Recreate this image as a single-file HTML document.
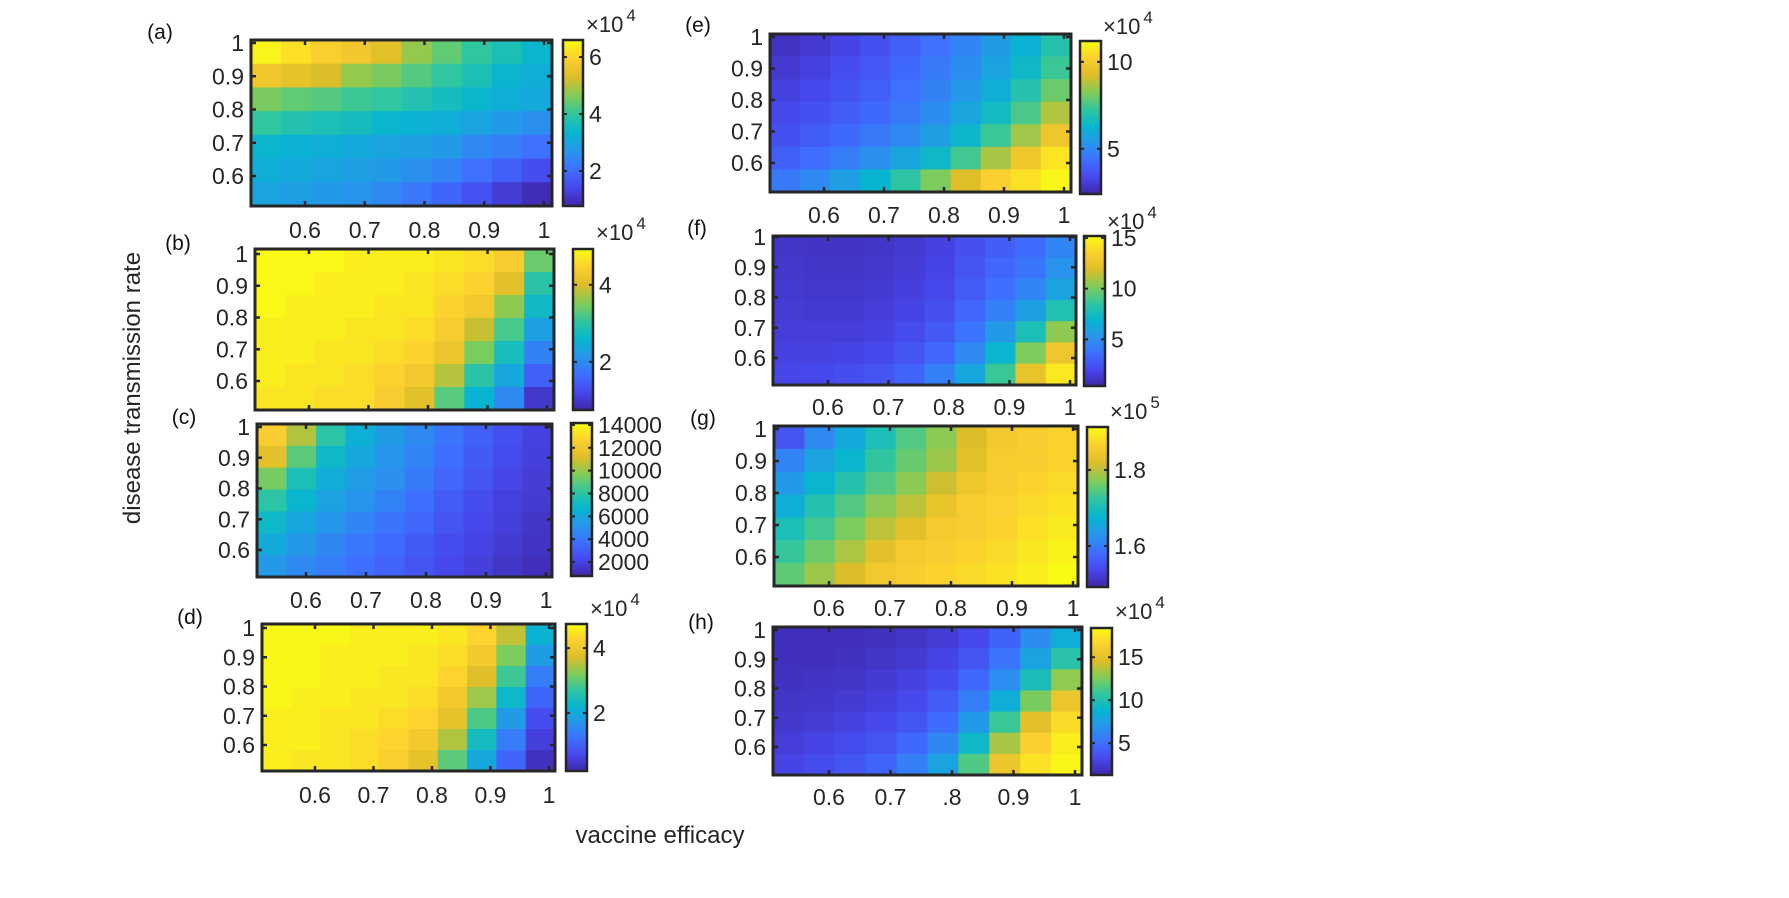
<!DOCTYPE html>
<html><head><meta charset="utf-8"><style>
html,body{margin:0;padding:0;background:#fff;}
svg{display:block;font-family:"Liberation Sans",Arial,sans-serif;}
</style></head><body>
<svg id="fig" width="1789" height="898" viewBox="0 0 1789 898" xmlns="http://www.w3.org/2000/svg">
<rect width="1789" height="898" fill="#fff"/>
<text x="0" y="0" transform="translate(140,388) rotate(-90)" font-size="24" text-anchor="middle" fill="#262626">disease transmission rate</text>
<text x="660" y="843" font-size="24" text-anchor="middle" fill="#262626">vaccine efficacy</text>
</svg>
<script>
const xTickVals=[0.6,0.7,0.8,0.9,1];
const xTickLabels=["0.6","0.7","0.8","0.9","1"];
const xTickLabelsH=["0.6","0.7",".8","0.9","1"];
const yTickVals=[0.6,0.7,0.8,0.9,1];
const yTickLabels=["0.6","0.7","0.8","0.9","1"];

const dataA=[[6.5,6.2,5.9,5.7,5.4,4.8,4.4,4.0,3.7,3.4],[5.7,5.5,5.3,4.8,4.6,4.3,4.0,3.7,3.4,3.2],[4.6,4.4,4.3,4.1,4.0,3.8,3.6,3.4,3.2,3.1],[4.0,3.8,3.7,3.6,3.4,3.3,3.2,3.0,2.8,2.6],[3.4,3.3,3.2,3.1,3.0,2.9,2.8,2.5,2.3,2.1],[3.2,3.1,3.0,2.9,2.8,2.6,2.4,2.1,1.8,1.5],[3.0,2.9,2.8,2.7,2.5,2.2,1.9,1.6,1.2,0.9]];
const dataB=[[4.9,4.9,4.9,4.8,4.8,4.8,4.7,4.6,4.4,3.4],[4.9,4.9,4.8,4.8,4.8,4.7,4.6,4.5,4.1,3.0],[4.9,4.8,4.8,4.8,4.7,4.7,4.5,4.3,3.6,2.7],[4.8,4.8,4.8,4.7,4.7,4.6,4.4,3.9,3.2,2.3],[4.8,4.8,4.7,4.7,4.6,4.5,4.2,3.5,2.8,1.9],[4.8,4.7,4.7,4.6,4.5,4.3,3.8,3.0,2.4,1.5],[4.7,4.7,4.6,4.6,4.4,4.1,3.3,2.6,2.0,1.0]];
const dataC=[[12500,10500,8000,6500,5500,4800,4000,3200,2600,2000],[11500,9000,7000,6000,5200,4500,3700,3000,2400,1900],[9500,7500,6300,5600,5000,4200,3400,2800,2200,1800],[8000,6800,5800,5200,4500,3800,3100,2500,2000,1700],[7000,6000,5300,4600,4000,3400,2800,2300,1900,1500],[6200,5400,4700,4100,3600,3000,2500,2100,1700,1400],[5400,4800,4300,3800,3300,2800,2300,1900,1500,1200]];
const dataD=[[4.7,4.7,4.7,4.6,4.6,4.6,4.5,4.3,3.6,2.2],[4.7,4.7,4.6,4.6,4.6,4.5,4.4,4.1,3.2,1.8],[4.7,4.7,4.6,4.6,4.5,4.5,4.3,3.8,2.8,1.4],[4.7,4.6,4.6,4.5,4.5,4.4,4.1,3.4,2.3,1.1],[4.6,4.6,4.5,4.5,4.4,4.3,3.9,2.9,1.8,0.8],[4.6,4.6,4.5,4.4,4.3,4.1,3.5,2.4,1.4,0.6],[4.6,4.5,4.5,4.4,4.2,3.9,3.0,2.0,1.1,0.4]];
const dataE=[[2.8,3.0,3.3,3.6,4.0,4.4,4.9,5.5,6.2,7.0],[3.0,3.2,3.5,3.8,4.2,4.6,5.1,5.7,6.5,7.4],[3.2,3.4,3.7,4.0,4.4,4.8,5.4,6.1,7.0,8.0],[3.4,3.6,3.9,4.2,4.6,5.1,5.8,6.6,7.6,8.8],[3.6,3.9,4.2,4.6,5.0,5.6,6.4,7.4,8.6,9.8],[4.0,4.3,4.7,5.2,5.8,6.5,7.5,8.7,9.8,10.7],[4.6,5.0,5.6,6.3,7.2,8.2,9.3,10.2,10.6,11.1]];
const dataF=[[1.2,1.1,1.1,1.2,1.4,1.8,2.4,3.0,3.6,4.6],[1.3,1.2,1.2,1.3,1.5,1.9,2.6,3.3,4.0,5.2],[1.4,1.3,1.3,1.4,1.7,2.1,2.9,3.7,4.6,6.0],[1.5,1.4,1.4,1.6,1.9,2.4,3.3,4.4,5.8,8.0],[1.6,1.6,1.6,1.8,2.2,2.8,3.9,5.5,7.8,10.5],[1.8,1.8,1.9,2.1,2.6,3.4,4.8,7.0,10.2,12.8],[2.0,2.1,2.3,2.6,3.2,4.4,6.2,8.8,12.5,14.5]];
const dataG=[[1.555,1.618,1.660,1.703,1.745,1.778,1.820,1.850,1.862,1.871],[1.610,1.652,1.681,1.724,1.757,1.787,1.829,1.858,1.862,1.871],[1.639,1.681,1.711,1.745,1.778,1.812,1.846,1.862,1.871,1.879],[1.669,1.711,1.745,1.778,1.804,1.837,1.858,1.867,1.879,1.888],[1.703,1.736,1.770,1.804,1.829,1.854,1.862,1.871,1.884,1.896],[1.728,1.761,1.795,1.829,1.854,1.862,1.871,1.879,1.892,1.905],[1.753,1.787,1.820,1.850,1.862,1.871,1.879,1.888,1.900,1.913]];
const dataH=[[1.8,1.8,1.9,2.0,2.2,2.6,3.3,4.5,6.5,8.5],[1.9,1.9,2.0,2.2,2.5,3.0,3.9,5.4,7.8,10.5],[2.0,2.1,2.2,2.5,2.9,3.5,4.7,6.6,9.8,13.0],[2.2,2.3,2.5,2.8,3.3,4.2,5.8,8.5,12.5,15.5],[2.4,2.6,2.9,3.3,3.9,5.0,7.2,11.0,15.0,17.0],[2.7,3.0,3.4,3.9,4.8,6.3,9.2,13.5,16.5,17.8],[3.0,3.4,3.9,4.6,5.8,7.8,11.5,15.5,17.3,18.2]];

const cbTicksA=[2,4,6], cbTicksB=[2,4], cbTicksC=[2000,4000,6000,8000,10000,12000,14000], cbTicksD=[2,4];
const cbTicksE=[5,10], cbTicksF=[5,10,15], cbTicksG=[1.6,1.8], cbTicksH=[5,10,15];
const cbLabelsG=["1.6","1.8"];

const NS="http://www.w3.org/2000/svg";
const svg=document.getElementById('fig');
const parula=[[62,38,168],[71,71,235],[62,111,255],[39,150,235],[8,181,208],[49,198,159],[129,204,89],[220,189,41],[252,207,48],[249,251,21]];
function cmap(t){t=Math.max(0,Math.min(1,t));const p=t*(parula.length-1);const i=Math.min(parula.length-2,Math.floor(p));const f=p-i;const a=parula[i],b=parula[i+1];return 'rgb('+a.map((v,k)=>Math.round(v+(b[k]-v)*f)).join(',')+')';}
function mk(tag,attrs,parent){const e=document.createElementNS(NS,tag);for(const k in attrs)e.setAttribute(k,attrs[k]);(parent||svg).appendChild(e);return e;}

const panels=[
 {id:'a',data:dataA,L:251,R:552,T:40,B:206,x06:305,x1:544,y1:43,y06:176,cb:[563,583,40,206],rng:[0.77,6.6],cbt:cbTicksA,exp:[586,24,'4'],lab:[160,32],xl:230,xlab:xTickLabels},
 {id:'b',data:dataB,L:255,R:554,T:249,B:410,x06:309,x1:547,y1:254,y06:381,cb:[573,593,249,410],rng:[0.75,4.93],cbt:cbTicksB,exp:[596,232,'4'],lab:[178,243],xl:434,xlab:xTickLabels},
 {id:'c',data:dataC,L:257,R:552,T:424,B:577,x06:306,x1:546,y1:427,y06:550,cb:[571,592,423,576],rng:[775,14170],cbt:cbTicksC,exp:null,lab:[184,417],xl:600,xlab:xTickLabels},
 {id:'d',data:dataD,L:262,R:555,T:624,B:771,x06:315,x1:549,y1:628,y06:745,cb:[566,587,624,771],rng:[0.22,4.74],cbt:cbTicksD,exp:[590,608,'4'],lab:[190,617],xl:795,xlab:xTickLabels},
 {id:'e',data:dataE,L:770,R:1071,T:34,B:192,x06:824,x1:1064,y1:37,y06:163,cb:[1080,1101,41,194],rng:[2.4,11.2],cbt:cbTicksE,exp:[1103,26,'4'],lab:[698,25],xl:215,xlab:xTickLabels},
 {id:'f',data:dataF,L:773,R:1076,T:236,B:385,x06:828,x1:1070,y1:237,y06:358,cb:[1084,1105,236,386],rng:[0.4,15.2],cbt:cbTicksF,exp:[1107,221,'4'],lab:[697,228],xl:407,xlab:xTickLabels},
 {id:'g',data:dataG,L:774,R:1078,T:426,B:586,x06:829,x1:1073,y1:429,y06:557,cb:[1087,1108,427,587],rng:[1.492,1.913],cbt:cbTicksG,cbl:cbLabelsG,exp:[1110,411,'5'],lab:[703,418],xl:608,xlab:xTickLabels},
 {id:'h',data:dataH,L:773,R:1082,T:627,B:775,x06:829,x1:1075,y1:630,y06:747,cb:[1091,1112,628,775],rng:[1.3,18.4],cbt:cbTicksH,exp:[1115,611,'4'],lab:[701,622],xl:797,xlab:xTickLabelsH}
];
const dark='#262626';
panels.forEach(p=>{
  const g=mk('g',{});
  
  
  const xs=v=>p.x06+(v-0.6)*(p.x1-p.x06)/0.4;
  const ys=v=>p.y06+(v-0.6)*(p.y1-p.y06)/0.4;
  const rows=p.data.length, cols=p.data[0].length;
  const bx=i=>p.L+i*(p.R-p.L)/cols, by=j=>p.T+j*(p.B-p.T)/rows;
  const norm=v=>(v-p.rng[0])/(p.rng[1]-p.rng[0]);
  for(let j=0;j<rows;j++)for(let i=0;i<cols;i++){
    const r=mk('rect',{x:bx(i),y:by(j),width:bx(i+1)-bx(i)+0.6,height:by(j+1)-by(j)+0.6,fill:cmap(norm(p.data[j][i]))},g);
    
    
  }
  const fr=mk('rect',{x:p.L,y:p.T,width:p.R-p.L,height:p.B-p.T,fill:'none',stroke:dark,'stroke-width':3},g);
  
  
  xTickVals.forEach((v,k)=>{
    const x=xs(v);
    mk('line',{x1:x,y1:p.B,x2:x,y2:p.B-5,stroke:dark,'stroke-width':2.5},g);
    mk('line',{x1:x,y1:p.T,x2:x,y2:p.T+5,stroke:dark,'stroke-width':2.5},g);
    const t=mk('text',{x:x,y:p.xl+8,'font-size':23,'text-anchor':'middle',fill:dark},g);
    t.textContent=p.xlab[k];
    
    
  });
  yTickVals.forEach((v,k)=>{
    const y=ys(v);
    mk('line',{x1:p.L,y1:y,x2:p.L+5,y2:y,stroke:dark,'stroke-width':2.5},g);
    mk('line',{x1:p.R,y1:y,x2:p.R-5,y2:y,stroke:dark,'stroke-width':2.5},g);
    const t=mk('text',{x:p.L-7,y:y+8,'font-size':23,'text-anchor':'end',fill:dark},g);
    t.textContent=yTickLabels[k];
    
    
  });
  const lb=mk('text',{x:p.lab[0],y:p.lab[1]+7,'font-size':21,'text-anchor':'middle',fill:'#111'},g);
  lb.textContent='('+p.id+')';
  
  
  // colorbar
  const [cl,cr,ct,cbm]=p.cb;
  const cg=mk('g',{},g);
  
  
  const N=60;
  for(let k=0;k<N;k++){
    const y0=cbm-(k+1)*(cbm-ct)/N;
    mk('rect',{x:cl,y:y0,width:cr-cl,height:(cbm-ct)/N+0.6,fill:cmap((k+0.5)/N)},cg);
  }
  mk('rect',{x:cl,y:ct,width:cr-cl,height:cbm-ct,fill:'none',stroke:dark,'stroke-width':2.5},cg);
  const cys=v=>cbm-(v-p.rng[0])/(p.rng[1]-p.rng[0])*(cbm-ct);
  p.cbt.forEach((v,k)=>{
    const y=cys(v);
    mk('line',{x1:cr,y1:y,x2:cr-4,y2:y,stroke:dark,'stroke-width':2},cg);
    mk('line',{x1:cl,y1:y,x2:cl+4,y2:y,stroke:dark,'stroke-width':2},cg);
    const t=mk('text',{x:cr+6,y:y+8,'font-size':23,fill:dark},cg);
    t.textContent=p.cbl?p.cbl[k]:String(v);
    
    
  });
  if(p.exp){
    const t=mk('text',{x:p.exp[0],y:p.exp[1]+8,'font-size':22,fill:dark},g);
    t.textContent='\u00d710';
    const s=mk('tspan',{dy:-11,dx:3,'font-size':17},t);
    s.textContent=p.exp[2];
    
    
  }
});
</script>
</body></html>
